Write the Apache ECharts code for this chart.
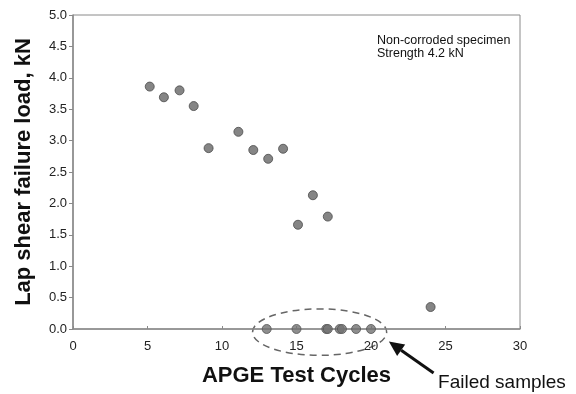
<!DOCTYPE html>
<html><head><meta charset="utf-8">
<script src="https://cdn.jsdelivr.net/npm/echarts@6/dist/echarts.min.js"></script>
<style>html,body{margin:0;padding:0;background:#fff}#c{width:576px;height:394px}</style>
</head><body><div id="c"></div>
<script>
// Data
const testedCycles = [5.15, 6.1, 7.15, 8.1, 9.1, 11.1, 12.1, 13.1, 14.1, 15.1, 16.1, 17.1, 24.0];
const testedLoads  = [3.86, 3.69, 3.80, 3.55, 2.88, 3.14, 2.85, 2.71, 2.87, 1.66, 2.13, 1.79, 0.35];
const failedCycles = [13, 15, 17, 17.1, 17.9, 18.05, 19, 20];
const failedLoads  = [0, 0, 0, 0, 0, 0, 0, 0];
const xTicks = [0, 5, 10, 15, 20, 25, 30];
const yTicks = ['0.0','0.5','1.0','1.5','2.0','2.5','3.0','3.5','4.0','4.5','5.0'];
const noteLines = ['Non-corroded specimen', 'Strength 4.2 kN'];
const xTitle = 'APGE Test Cycles';
const yTitle = 'Lap shear failure load, kN';
const failedLabel = 'Failed samples';

const pts = testedCycles.map((x, i) => [x, testedLoads[i]]);
const fpts = failedCycles.map((x, i) => [x, failedLoads[i]]);

const chart = echarts.init(document.getElementById('c'));
const axisCol = '#8a8a8a';
const font = 'Liberation Sans, Arial, sans-serif';
chart.setOption({
  animation: false,
  grid: { left: 73, right: 56, top: 15, bottom: 65, show: true, borderColor: axisCol, borderWidth: 1 },
  xAxis: {
    type: 'value', min: 0, max: 30, interval: 5,
    name: xTitle, nameLocation: 'middle', nameGap: 36,
    nameTextStyle: { fontFamily: font, fontWeight: 'bold', fontSize: 22, color: '#111' },
    axisLine: { lineStyle: { color: axisCol, width: 1.5 } },
    axisTick: { inside: true, length: 3, lineStyle: { color: axisCol } },
    axisLabel: { fontFamily: font, fontSize: 13, color: '#222', margin: 11,
      formatter: v => String(xTicks[Math.round(v / 5)]) },
    splitLine: { show: false }
  },
  yAxis: {
    type: 'value', min: 0, max: 5, interval: 0.5,
    name: yTitle, nameLocation: 'middle', nameGap: 38,
    nameTextStyle: { fontFamily: font, fontWeight: 'bold', fontSize: 22, color: '#111' },
    axisLine: { show: true, lineStyle: { color: axisCol, width: 1.5 } },
    axisTick: { show: true, length: 4, lineStyle: { color: axisCol } },
    axisLabel: { fontFamily: font, fontSize: 13, color: '#222', margin: 6,
      formatter: v => yTicks[Math.round(v * 2)] },
    splitLine: { show: false }
  },
  series: [
    { type: 'scatter', data: pts, symbolSize: 9,
      itemStyle: { color: '#666666', borderColor: '#4a4a4a', borderWidth: 1 } },
    { type: 'scatter', data: fpts, symbolSize: 9,
      itemStyle: { color: '#727272', borderColor: '#555555', borderWidth: 1 } }
  ]
});

// annotations positioned via the chart's own scales
const P = (x, y) => chart.convertToPixel({ gridIndex: 0 }, [x, y]);
const c = P(16.55, -0.05);
const e1 = P(12.05, 0), e2 = P(21.05, 0);
const ry = (P(0, 0)[1] - P(0, 0.37)[1]);
const rx = (e2[0] - e1[0]) / 2;
const tip = P(21.2, -0.2), tail = P(24.2, -0.70);
const ang = Math.atan2(tip[1] - tail[1], tip[0] - tail[0]);
const hl = 15, hw = 7;
const bx = tip[0] - hl * Math.cos(ang), by = tip[1] - hl * Math.sin(ang);
const nx = -Math.sin(ang), ny = Math.cos(ang);
const note = P(20.4, 4.70);
const fl = P(24.5, -0.70);
chart.setOption({
  graphic: [
    { type: 'ellipse', shape: { cx: c[0], cy: c[1], rx: rx, ry: ry },
      style: { fill: 'none', stroke: '#666', lineWidth: 1.5, lineDash: [7, 5] } },
    { type: 'line', shape: { x1: tail[0], y1: tail[1], x2: bx, y2: by },
      style: { stroke: '#111', lineWidth: 3 } },
    { type: 'polygon', shape: { points: [[tip[0], tip[1]], [bx + nx * hw, by + ny * hw], [bx - nx * hw, by - ny * hw]] },
      style: { fill: '#111' } },
    { type: 'text', x: note[0], y: note[1],
      style: { text: noteLines.join('\n'), font: '12.5px ' + font, fill: '#111', lineHeight: 13 } },
    { type: 'text', x: fl[0], y: fl[1],
      style: { text: failedLabel, font: '19px ' + font, fill: '#111' } }
  ]
});
</script></body></html>
